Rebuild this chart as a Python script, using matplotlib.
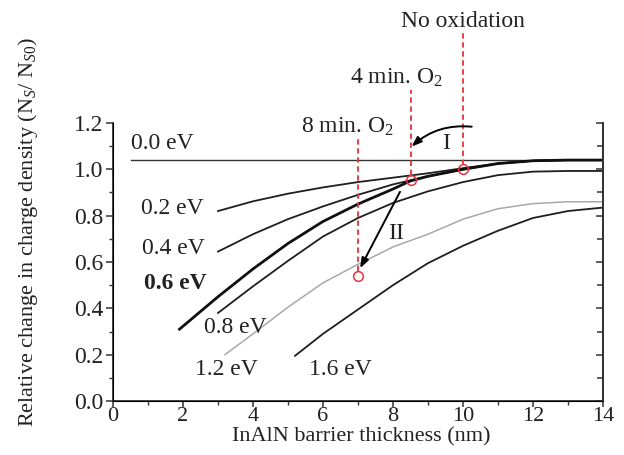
import matplotlib
matplotlib.use("Agg")
import matplotlib.pyplot as plt
from matplotlib.ticker import MultipleLocator

plt.rcParams['font.family'] = ['Liberation Serif', 'DejaVu Serif']
plt.rcParams['mathtext.fontset'] = 'custom'
plt.rcParams['mathtext.rm'] = 'Liberation Serif'
plt.rcParams['mathtext.it'] = 'Liberation Serif:italic'

# ---- data ----
x_00 = [0.5, 14.0]
y_00 = [1.04, 1.04]

x_02 = [3.0, 4.0, 5.0, 6.0, 7.0, 8.0, 9.0, 10.0, 11.0, 12.0, 13.0, 14.0]
y_02 = [0.82, 0.862, 0.895, 0.922, 0.945, 0.964, 0.983, 1.005, 1.025, 1.037, 1.04, 1.04]

x_04 = [3.0, 4.0, 5.0, 6.0, 7.0, 8.0, 9.0, 10.0, 11.0, 12.0, 13.0, 14.0]
y_04 = [0.645, 0.72, 0.785, 0.84, 0.89, 0.935, 0.97, 1.0, 1.025, 1.037, 1.04, 1.04]

x_06 = [1.9, 3.0, 4.0, 5.0, 6.0, 7.0, 8.0, 8.5, 9.0, 10.0, 11.0, 12.0, 13.0, 14.0]
y_06 = [0.31, 0.45, 0.57, 0.68, 0.775, 0.85, 0.915, 0.95, 0.97, 1.0, 1.025, 1.037, 1.04, 1.04]

x_08 = [3.0, 4.0, 5.0, 6.0, 7.0, 8.0, 9.0, 10.0, 11.0, 12.0, 13.0, 14.0]
y_08 = [0.38, 0.495, 0.605, 0.71, 0.79, 0.855, 0.905, 0.945, 0.975, 0.99, 0.993, 0.993]

x_12 = [3.2, 4.0, 5.0, 6.0, 7.0, 8.0, 9.0, 10.0, 11.0, 12.0, 13.0, 14.0]
y_12 = [0.2, 0.29, 0.405, 0.51, 0.59, 0.665, 0.72, 0.785, 0.83, 0.852, 0.86, 0.86]

x_16 = [5.2, 6.0, 7.0, 8.0, 9.0, 10.0, 11.0, 12.0, 13.0, 14.0]
y_16 = [0.195, 0.29, 0.395, 0.5, 0.595, 0.67, 0.735, 0.79, 0.82, 0.835]

curve_labels = ['0.0 eV', '0.2 eV', '0.4 eV', '0.6 eV', '0.8 eV', '1.2 eV', '1.6 eV']
label_x = [1.4, 1.7, 1.72, 1.78, 3.5, 3.25, 6.5]
label_y = [1.113, 0.832, 0.659, 0.508, 0.316, 0.137, 0.137]

ox_x = [7.0, 8.5, 10.0]
ox_y = [0.54, 0.955, 1.0]
ox_top = [1.134, 1.342, 1.587]
ox_labels = ['8 min. O$_2$', '4 min. O$_2$', 'No oxidation']
ox_lab_x = [6.71, 8.1, 10.0]
ox_lab_y = [1.184, 1.393, 1.637]

xticks = [0, 2, 4, 6, 8, 10, 12, 14]
yticks = [0.0, 0.2, 0.4, 0.6, 0.8, 1.0, 1.2]

# ---- figure ----
fig = plt.figure(figsize=(6.24, 4.55), dpi=100)
ax = fig.add_axes([113/624, 1-401/455, 490/624, 278/455])

dark = '#1e1e1e'
ax.plot(x_00, y_00, color='#333333', lw=1.0)
ax.plot(x_02, y_02, color=dark, lw=1.3)
ax.plot(x_04, y_04, color=dark, lw=1.3)
ax.plot(x_06, y_06, color='#101010', lw=2.0)
ax.plot(x_08, y_08, color=dark, lw=1.3)
ax.plot(x_12, y_12, color='#a8a8a8', lw=1.1)
ax.plot(x_16, y_16, color=dark, lw=1.3)

for i, t in enumerate(curve_labels):
    ax.text(label_x[i], label_y[i], t, fontsize=17, ha='center', va='center',
            color='#222222', fontweight='bold' if t == '0.6 eV' else 'normal')

red = '#e8323c'
for i in range(3):
    ax.plot([ox_x[i], ox_x[i]], [ox_y[i] + 0.02, ox_top[i]], color=red, lw=1.3,
            ls=(0, (3, 2)), clip_on=False)
    ax.plot(ox_x[i], ox_y[i], 'o', ms=7, mfc='none', mec=red, mew=1.1, clip_on=False)
    ax.text(ox_lab_x[i], ox_lab_y[i], ox_labels[i], fontsize=17, ha='center',
            va='center', color='#222222')

ax.annotate('', xy=(8.53, 1.098), xytext=(10.25, 1.184),
            arrowprops=dict(arrowstyle='-|>,head_length=0.6,head_width=0.22',
                            connectionstyle='arc3,rad=0.22', color='black', lw=1.4,
                            shrinkA=0, shrinkB=0), annotation_clip=False)
ax.text(9.53, 1.112, 'I', fontsize=17, ha='center', va='center', color='#222222')

ax.annotate('', xy=(7.06, 0.573), xytext=(8.2, 0.903),
            arrowprops=dict(arrowstyle='-|>,head_length=0.6,head_width=0.22',
                            color='black', lw=1.4, shrinkA=0, shrinkB=0))
ax.text(8.1, 0.724, 'II', fontsize=17, ha='center', va='center', color='#222222')

ax.set_xlim(0, 14)
ax.set_ylim(0, 1.2)
ax.set_xticks(xticks)
ax.set_yticks(yticks)
ax.set_xticklabels([str(v) for v in xticks])
ax.set_yticklabels([f'{v:.1f}' for v in yticks])
ax.xaxis.set_minor_locator(MultipleLocator(1))
ax.yaxis.set_minor_locator(MultipleLocator(0.1))

ax.spines['top'].set_visible(False)
for s in ['left', 'right', 'bottom']:
    ax.spines[s].set_linewidth(1.3)
    ax.spines[s].set_color('#333333')

ax.tick_params(axis='both', which='major', labelsize=17, colors='#333333',
               labelcolor='#222222', width=1.1, length=5, direction='out', pad=2)
ax.tick_params(axis='both', which='minor', width=1.0, length=3, direction='out',
               colors='#333333')
ax.tick_params(axis='x', which='major', length=4, pad=0, labelsize=16)
ax.tick_params(axis='y', which='both', right=False)

# right side ticks point inward
axr = ax.twinx()
axr.set_ylim(0, 1.2)
axr.yaxis.set_major_locator(MultipleLocator(0.2))
axr.yaxis.set_minor_locator(MultipleLocator(0.1))
axr.tick_params(axis='y', which='both', direction='in', labelright=False,
                colors='#333333', width=1.1)
axr.tick_params(axis='y', which='major', length=5)
axr.tick_params(axis='y', which='minor', length=4)
axr.spines['top'].set_visible(False)
axr.spines['right'].set_linewidth(1.3)
axr.spines['right'].set_color('#333333')

ax.set_xlabel('InAlN barrier thickness (nm)', fontsize=16, color='#222222', va='center')
ax.xaxis.set_label_coords(0.507, -0.13)
fig.text(28/624, 1-231.5/455,
         'Relative change in charge density (N$_S$/ N$_{S0}$)',
         rotation=90, ha='center', va='center', fontsize=16, color='#222222')

fig.savefig('out.png', dpi=100)
